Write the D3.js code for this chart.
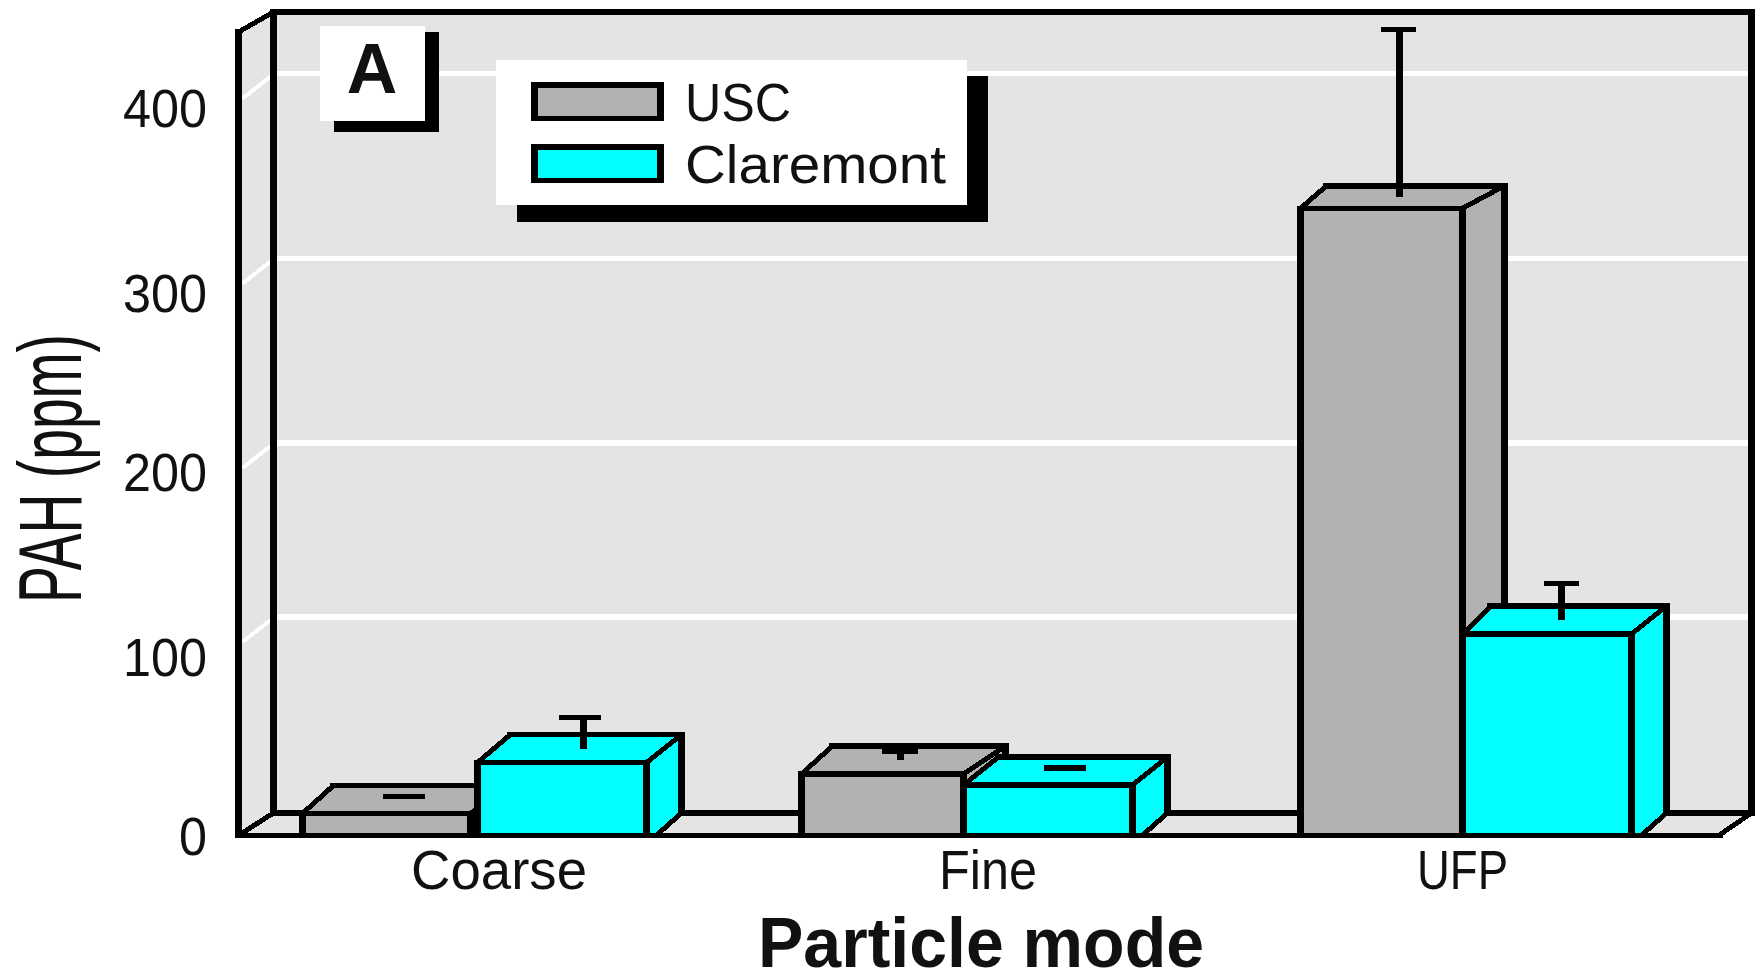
<!DOCTYPE html>
<html><head><meta charset="utf-8">
<script src="https://cdn.jsdelivr.net/npm/d3@7"></script>
<style>html,body{margin:0;padding:0;background:#fff;overflow:hidden}svg{display:block}
text{font-family:"Liberation Sans",Arial,sans-serif;fill:#111}</style></head>
<body><div id="chart"></div>
<script>
// ---- data
const categories = ["Coarse", "Fine", "UFP"];
const seriesNames = ["USC", "Claremont"];
const uscValues = [12, 33.7, 344.6];
const claremontValues = [40, 27.6, 110.6];
const uscErrors = [1.6, 4.7, 92];
const claremontErrors = [17, 1.6, 20];
const yTicks = [0, 100, 200, 300, 400];
const seriesColors = ["#b2b2b2", "#00ffff"];

// ---- layout
const W = 1756, H = 969;
const panel = "#e4e4e4";
const wall = {fl: 238.5, bl: 273.5, br: 1751.5, frEnd: 1719, top: 12, frontTop: 32, floorBack: 813, floorFront: 835.3};
// per-bar perspective of the original drawing: [left depth, right depth, vertical depth]
const barDepth = [[[31,42,28],[31,42,28],[26,42,22.5]], [[33,35,28],[35,35,28],[28,35,28]]];
const barStart = [[0,0,0],[175,162,162]];
const barWidth = [[168,162,162],[169,169,169]];
const errOffset = [[17.5,17.5,18],[21.5,17,14.5]];
const capOffset = [[17.5,17.5,17],[17.5,17,14.5]];
const capWidth = [[42,36,35],[42,42,35]];

const svg = d3.select("#chart").append("svg").attr("width", W).attr("height", H);
const y = d3.scaleLinear().domain([0, 400]).range([wall.floorFront, 107.5]);
const tickY = d3.scaleLinear().domain(yTicks).range([835.5, 656.5, 471.5, 292, 107.5]);
const gridY = d3.scaleLinear().domain(yTicks).range([813, 617, 443, 258.5, 73.5]);
const x0 = d3.scaleBand().domain(categories).range([302.5, 302.5 + 3 * 499]);
const labelX = d3.scaleOrdinal(categories, [499, 988, 1462.5]);
const labelLen = d3.scaleOrdinal(categories, [176, 98, 91]);

// straight segments end flush at outer corners; no cap overshoot on the stems
const line = (g, x1, y1, x2, y2, flush = false) => {
  const vert = x1 === x2, horiz = y1 === y2;
  const w = vert ? 7 : (horiz ? 5.6 : 5);
  const ex = horiz && !flush ? 3.5 : 0, ey = vert && !flush ? 2.8 : 0;
  g.append("line")
    .attr("x1", x1 - ex).attr("y1", y1 - ey).attr("x2", x2 + ex).attr("y2", y2 + ey)
    .attr("stroke", "#000").attr("stroke-width", w)
    .attr("shape-rendering", "crispEdges");
};
const poly = (g, pts, fill) => g.append("polygon").attr("points", pts.map(p => p.join(",")).join(" ")).attr("fill", fill).attr("shape-rendering", "crispEdges");

// ---- chart box
const box = svg.append("g");
poly(box, [[wall.bl, wall.top],[wall.br, wall.top],[wall.br, wall.floorBack],[wall.bl, wall.floorBack]], panel);
poly(box, [[wall.fl, wall.frontTop],[wall.bl, wall.top],[wall.bl, wall.floorBack],[wall.fl, wall.floorFront]], panel);
poly(box, [[wall.fl, wall.floorFront],[wall.bl, wall.floorBack],[wall.br, wall.floorBack],[wall.frEnd, wall.floorFront]], panel);

// gridlines
yTicks.filter(d => d > 0).forEach(d => {
  box.append("line").attr("x1", wall.bl).attr("x2", wall.br).attr("y1", gridY(d)).attr("y2", gridY(d))
    .attr("stroke", "#fff").attr("stroke-width", 5.6).attr("shape-rendering", "crispEdges");
  box.append("line").attr("x1", wall.bl - 3).attr("y1", gridY(d) + 3).attr("x2", wall.fl + 4).attr("y2", gridY(d) + 25)
    .attr("stroke", "#fff").attr("stroke-width", 4).attr("shape-rendering", "crispEdges");
});

line(box, wall.bl, wall.top, wall.br, wall.top);
line(box, wall.bl, wall.top, wall.bl, wall.floorBack);
line(box, wall.br, wall.top, wall.br, wall.floorBack);
line(box, wall.bl, wall.floorBack, wall.br, wall.floorBack);
line(box, wall.fl, wall.frontTop, wall.fl, wall.floorFront);
line(box, wall.fl, wall.frontTop, wall.bl, wall.top);
line(box, wall.fl, wall.floorFront, wall.frEnd, wall.floorFront);
line(box, wall.fl, wall.floorFront, wall.bl, wall.floorBack);
line(box, wall.frEnd, wall.floorFront, wall.br, wall.floorBack);

// ---- bars
const allValues = [uscValues, claremontValues];
const allErrors = [uscErrors, claremontErrors];
const bars = svg.append("g");
categories.forEach((cat, c) => {
  seriesNames.forEach((name, s) => {
    const g = bars.append("g");
    const v = allValues[s][c], e = allErrors[s][c], col = seriesColors[s];
    const [dl, dr, dy] = barDepth[s][c];
    const xl = x0(cat) + barStart[s][c], xr = xl + barWidth[s][c];
    const yt = y(v), yb = y(0), ybb = wall.floorBack;
    poly(g, [[xl, yt],[xl + dl, yt - dy],[xr + dr, yt - dy],[xr, yt]], col);
    poly(g, [[xr, yt],[xr + dr, yt - dy],[xr + dr, ybb],[xr + dr - 25, yb],[xr, yb]], col);
    poly(g, [[xl, yt],[xr, yt],[xr, yb],[xl, yb]], col);
    line(g, xl + dl, yt - dy, xr + dr, yt - dy);
    line(g, xl, yt, xl + dl, yt - dy);
    line(g, xr, yt, xr + dr, yt - dy);
    line(g, xr + dr, yt - dy, xr + dr, ybb);
    line(g, xr + dr - 25, yb, xr + dr, ybb);
    line(g, xl, yt, xr, yt);
    line(g, xl, yt, xl, yb);
    line(g, xr, yt, xr, yb);
    line(g, xl, yb, xr + dr - 25, yb);
    // error bar
    const cx = (xl + xr) / 2, base = yt - dy / 2;
    const capY = y(v + e) - dy / 2;
    const sx = cx + errOffset[s][c], kx = cx + capOffset[s][c];
    line(g, sx, capY, sx, base, true);
    line(g, kx - capWidth[s][c] / 2, capY, kx + capWidth[s][c] / 2, capY, true);
  });
});

// ---- axes
const yAxis = d3.axisLeft(tickY).tickValues(yTicks).tickSize(0).tickPadding(0);
const ya = svg.append("g").attr("transform", "translate(207,0)").call(yAxis);
ya.select(".domain").remove();
ya.selectAll("text").attr("font-size", 54).attr("font-family", '"Liberation Sans",Arial,sans-serif')
  .attr("fill", "#111").attr("dy", "0.36em")
  .attr("textLength", d => String(d).length * 28).attr("lengthAdjust", "spacingAndGlyphs");

svg.append("g").selectAll("text").data(categories).join("text")
  .attr("x", d => labelX(d)).attr("y", 889).attr("text-anchor", "middle").attr("font-size", 55)
  .attr("textLength", d => labelLen(d)).attr("lengthAdjust", "spacingAndGlyphs").text(d => d);

svg.append("text").attr("x", 981).attr("y", 967).attr("text-anchor", "middle").attr("font-size", 70)
  .attr("font-weight", "bold").attr("textLength", 446).attr("lengthAdjust", "spacingAndGlyphs").text("Particle mode");

svg.append("text").attr("transform", "translate(81,603) rotate(-90) scale(1,1.65)")
  .attr("font-size", 54).attr("textLength", 269).attr("lengthAdjust", "spacingAndGlyphs").text("PAH (ppm)");

// ---- panel letter
const a = svg.append("g");
a.append("rect").attr("x", 334).attr("y", 32).attr("width", 105).attr("height", 100).attr("fill", "#000");
a.append("rect").attr("x", 320).attr("y", 26).attr("width", 105).attr("height", 95).attr("fill", "#fff");
a.append("text").attr("x", 372).attr("y", 93).attr("text-anchor", "middle").attr("font-size", 70).attr("font-weight", "bold").text("A");

// ---- legend
const lg = svg.append("g");
lg.append("rect").attr("x", 517).attr("y", 76).attr("width", 471).attr("height", 146).attr("fill", "#000");
lg.append("rect").attr("x", 496).attr("y", 60).attr("width", 471).attr("height", 145).attr("fill", "#fff");
const legendLen = [106, 261];
seriesNames.forEach((name, i) => {
  const top = 82 + i * 62;
  lg.append("rect").attr("x", 531).attr("y", top).attr("width", 133).attr("height", 39).attr("fill", "#000");
  lg.append("rect").attr("x", 538).attr("y", top + 6).attr("width", 119).attr("height", 28).attr("fill", seriesColors[i]);
  lg.append("text").attr("x", 685).attr("y", top + 38.5).attr("font-size", 53)
    .attr("textLength", legendLen[i]).attr("lengthAdjust", "spacingAndGlyphs").text(name);
});
</script></body></html>
